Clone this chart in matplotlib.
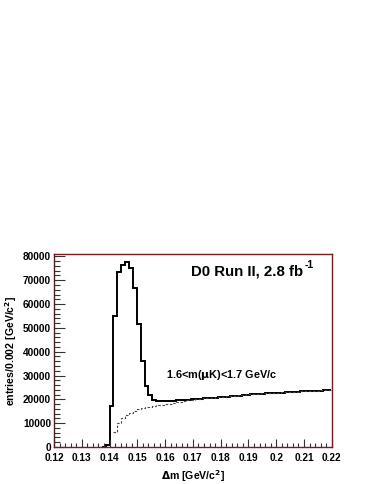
import numpy as np
import matplotlib
matplotlib.use("Agg")
import matplotlib.pyplot as plt
from matplotlib.ticker import MultipleLocator, FuncFormatter
from matplotlib.transforms import offset_copy

# ---- data ----
bin_width = 0.0014
first_edge = 0.1372
data_counts = [0, 900, 17200, 54800, 73400, 76200, 77600, 75100, 66700, 51600, 36200,
               25600, 21900, 19800, 19500, 19400, 19400, 19400, 19500, 19600, 19700,
               19800, 19850, 19950,
               20150, 20300, 20450, 20500, 20600, 20750, 20900, 21000, 21100, 21350,
               21400, 21600, 21700, 21900, 22100, 22150, 22300, 22450, 22500, 22600,
               22700, 22800, 22800, 22950, 23000, 23100, 23100, 23300, 23350, 23450,
               23500, 23550, 23700, 23900, 23800]
bkg_start = 0.1414
bkg_counts = [6500, 10000, 12000, 13300, 14300, 15100, 15800, 16300, 16700, 17000,
              17300, 17500, 17700, 17900, 18100, 18400, 18700, 19000, 19300, 19600,
              19900, 20100, 20300, 20400, 20600, 20700, 20850, 21000, 21150, 21300,
              21450, 21600, 21750, 21900, 22050, 22200, 22300, 22400, 22500, 22600,
              22700, 22750, 22850, 22900, 23000, 23050, 23150, 23250, 23350, 23400,
              23500, 23600, 23700, 23800, 24100, 23900]
x_ticks = [0.12, 0.13, 0.14, 0.15, 0.16, 0.17, 0.18, 0.19, 0.2, 0.21, 0.22]
y_ticks = [0, 10000, 20000, 30000, 40000, 50000, 60000, 70000, 80000]

data_edges = first_edge + bin_width * np.arange(len(data_counts) + 1)
bkg_edges = bkg_start + bin_width * np.arange(len(bkg_counts) + 1)

plt.rcParams['font.family'] = ['Liberation Sans', 'DejaVu Sans']
plt.rcParams['font.weight'] = 'bold'

fig = plt.figure(figsize=(3.74, 4.84), dpi=100)
ax = fig.add_axes([0.1444, 0.0764, 0.887 - 0.1444, 0.4752 - 0.0764])

ax.stairs(data_counts, data_edges, color='black', linewidth=1.4, baseline=None)
ax.stairs(bkg_counts, bkg_edges, color='#444444', linewidth=0.8,
          linestyle=(0, (2.2, 1.6)), baseline=None)

ax.set_xlim(0.12, 0.22)
ax.set_ylim(0, 81000)
ax.set_xticks(x_ticks)
ax.set_yticks(y_ticks)
ax.xaxis.set_minor_locator(MultipleLocator(0.002))
ax.yaxis.set_minor_locator(MultipleLocator(2000))
ax.xaxis.set_major_formatter(FuncFormatter(lambda v, p: ('%g' % round(v, 3))))

ax.tick_params(which='both', direction='in', top=False, right=False,
               labelsize=7.3, color='#333333')
ax.tick_params(axis='x', which='major', length=5.5, width=0.8, pad=4)
ax.tick_params(axis='x', which='minor', length=2.8, width=0.8)
ax.tick_params(axis='y', which='major', length=8, width=0.8, pad=2)
ax.tick_params(axis='y', which='minor', length=4, width=0.8)
for lab in ax.get_xticklabels() + ax.get_yticklabels():
    lab.set_fontweight('bold')

for s in ['top', 'right', 'bottom']:
    ax.spines[s].set_color('#7a1c1c')
    ax.spines[s].set_linewidth(1.0)
ax.spines['left'].set_color('#4a2020')
ax.spines['left'].set_linewidth(1.0)

ax.set_xlabel(r'$\Delta$m [GeV/c$^{\mathbf{2}}$]', fontsize=7.6, fontweight='bold', labelpad=4)
ax.set_ylabel(r'entries/0.002 [GeV/c$^{\mathbf{2}}$]', fontsize=7.6, fontweight='bold', labelpad=3)

t = ax.text(0.495, 0.89, 'D0 Run II, 2.8 fb', transform=ax.transAxes,
            fontsize=10.8, fontweight='bold', ha='left', va='baseline')
fig.canvas.draw()
bb = t.get_window_extent(renderer=fig.canvas.get_renderer())
inv = ax.transAxes.inverted()
x_end, _ = inv.transform((bb.x1, bb.y0))
ax.text(x_end + 0.003, 0.89, '-1',
        transform=offset_copy(ax.transAxes, fig=fig, x=0, y=5.5, units='points'),
        fontsize=7.5, fontweight='bold', ha='left', va='baseline')
ax.text(0.405, 0.36, r'1.6<m($\mathbf{\mu}$K)<1.7 GeV/c', transform=ax.transAxes,
        fontsize=7.8, fontweight='bold', ha='left', va='baseline')

fig.savefig('out.png', dpi=100)
